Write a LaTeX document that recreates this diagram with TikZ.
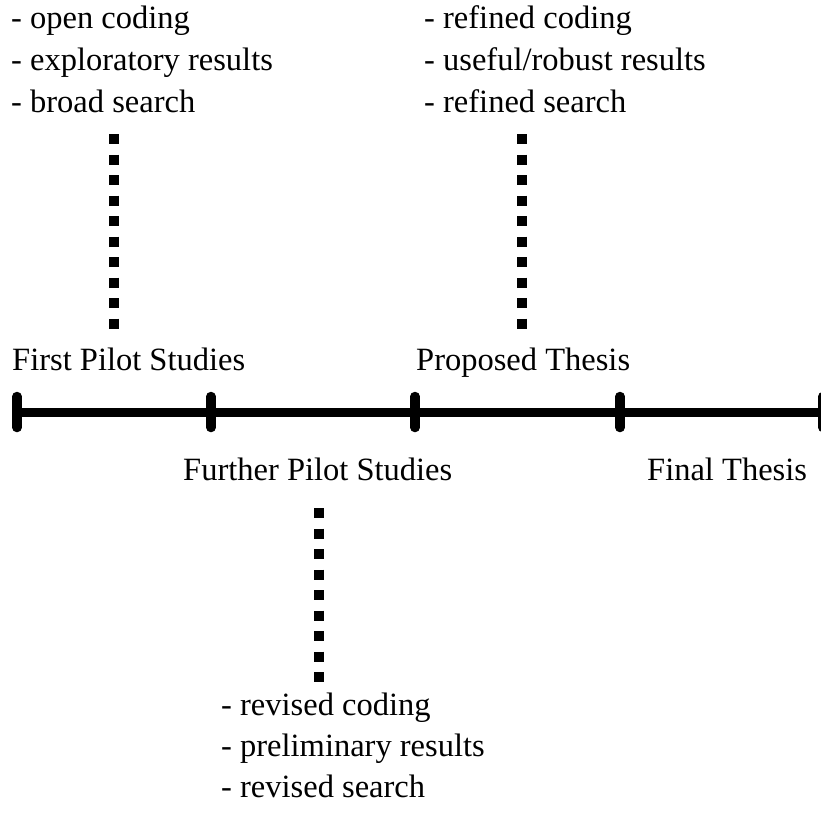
\documentclass[tikz,border=0pt]{standalone}
\usepackage{fontspec}
\setmainfont{Liberation Serif}
\begin{document}
\begin{tikzpicture}[x=1pt,y=-1pt,
  lbl/.style={inner sep=0pt,anchor=base west,font=\fontsize{32.5}{40}\selectfont},
  axis/.style={line width=9pt},
  tick/.style={line width=9.5pt,line cap=round},
  dotline/.style={line width=10pt,dash pattern=on 10pt off 10.5pt}]
\useasboundingbox (0,0) rectangle (821,814);

% timeline with milestone ticks
\coordinate (t0) at (17,412);
\coordinate (t1) at (211,412);
\coordinate (t2) at (415,412);
\coordinate (t3) at (620,412);
\coordinate (t4) at (823,412);
\draw[axis] (t0) -- (t4);
\foreach \t in {t0,t1,t2,t3,t4}
  \draw[tick] ([yshift=-15.5pt]\t) -- ([yshift=15.5pt]\t);

% milestone labels
\node[lbl] (first)   at (12,370)  {First Pilot Studies};
\node[lbl] (prop)    at (416,370) {Proposed Thesis};
\node[lbl] (further) at (183,480) {Further Pilot Studies};
\node[lbl] (final)   at (647,480) {Final Thesis};

% notes for the first pilot studies
\node[lbl] (a1) at (11,28)  {- open coding};
\node[lbl] (a2) at (11,70)  {- exploratory results};
\node[lbl] (a3) at (11,112) {- broad search};

% notes for the proposed thesis
\node[lbl] (b1) at (424,28)  {- refined coding};
\node[lbl] (b2) at (424,70)  {- useful/robust results};
\node[lbl] (b3) at (424,112) {- refined search};

% notes for the further pilot studies
\node[lbl] (c1) at (221,715) {- revised coding};
\node[lbl] (c2) at (221,756) {- preliminary results};
\node[lbl] (c3) at (221,797) {- revised search};

% dotted leaders between notes and milestones
\coordinate (la) at (114,134);
\coordinate (lb) at (114,329);
\coordinate (ra) at (522,134);
\coordinate (rb) at (522,329);
\coordinate (ma) at (319,508);
\coordinate (mb) at (319,682);
\draw[dotline] (la) -- (lb);
\draw[dotline] (ra) -- (rb);
\draw[dotline] (ma) -- (mb);
\end{tikzpicture}
\end{document}
